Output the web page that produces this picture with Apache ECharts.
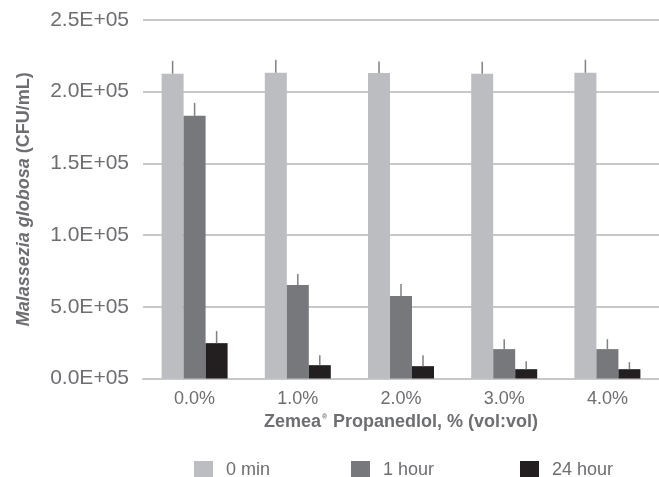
<!DOCTYPE html>
<html>
<head>
<meta charset="utf-8">
<script src="https://cdn.jsdelivr.net/npm/echarts@6/dist/echarts.min.js"></script>
<style>html,body{margin:0;padding:0;background:#fff;}#c{width:659px;height:477px;}</style>
</head>
<body>
<div id="c"></div>
<script>
const categories = ['0.0%', '1.0%', '2.0%', '3.0%', '4.0%'];
const seriesNames = ['0 min', '1 hour', '24 hour'];
const min0 = [212500, 213200, 213000, 212500, 213200];
const hour1 = [183200, 65150, 57500, 20500, 20500];
const hour24 = [24650, 9300, 8600, 6500, 6500];
const err0 = [9000, 9100, 8000, 8400, 9100];
const err1 = [9000, 7700, 8400, 6900, 6900];
const err24 = [8400, 7000, 7700, 5600, 4900];
const yTickLabels = ['0.0E+05', '5.0E+05', '1.0E+05', '1.5E+05', '2.0E+05', '2.5E+05'];

const colors = ['#bcbdc0', '#77787b', '#231f20'];
const values = [min0, hour1, hour24];
const errs = [err0, err1, err24];
const offsets = [-22, 0, 22];
const legendLeft = [189, 346, 515];
const font = '"Liberation Sans", Arial, sans-serif';
const textColor = '#6d6e71';

const chart = echarts.init(document.getElementById('c'));
const series = [];
values.forEach((vals, i) => {
  series.push({
    name: seriesNames[i], type: 'bar', data: vals, barWidth: 22, barGap: '0%',
    itemStyle: { color: colors[i] }, z: 2
  });
});
values.forEach((vals, i) => {
  series.push({
    type: 'custom', z: 3, silent: true,
    data: vals.map((v, k) => [k, v, v + errs[i][k]]),
    renderItem: function (params, api) {
      const p1 = api.coord([api.value(0), api.value(1)]);
      const p2 = api.coord([api.value(0), api.value(2)]);
      const x = p1[0] + offsets[i];
      return { type: 'line', shape: { x1: x, y1: p1[1], x2: x, y2: p2[1] },
        style: { stroke: '#808184', lineWidth: 1.5 } };
    }
  });
});

chart.setOption({
  animation: false,
  grid: { left: 143, right: -4, top: 20, bottom: 98.5, containLabel: false },
  legend: seriesNames.map((n, i) => ({
    data: [n], left: legendLeft[i], top: 456, icon: 'rect', itemWidth: 19, itemHeight: 19,
    textStyle: { fontFamily: font, fontSize: 18, color: textColor, padding: [0, 0, 0, 8] }
  })),
  xAxis: {
    type: 'category', data: categories,
    axisLine: { lineStyle: { color: '#c7c8ca', width: 2 } },
    axisTick: { show: false },
    axisLabel: { fontFamily: font, fontSize: 18, color: textColor, margin: 12 },
    name: '{b|Zemea}{s|®}{b| Propanedlol, % (vol:vol)}', nameLocation: 'middle', nameGap: 35,
    nameTextStyle: { rich: {
      b: { fontFamily: font, fontSize: 18, fontWeight: 'bold', color: textColor },
      s: { fontFamily: font, fontSize: 7, fontWeight: 'bold', color: textColor, verticalAlign: 'top', padding: [0, 1, 9, 1] }
    } }
  },
  yAxis: {
    type: 'value', min: 0, max: 250000, interval: 50000,
    axisLine: { show: false }, axisTick: { show: false },
    splitLine: { lineStyle: { color: '#c7c8ca', width: 2 } },
    axisLabel: { fontFamily: font, fontSize: 21, color: textColor, margin: 14,
      formatter: v => yTickLabels[Math.round(v / 50000)] },
    name: '{i|Malassezia globosa}{b| (CFU/mL)}', nameLocation: 'middle', nameGap: 110,
    nameTextStyle: { rich: {
      i: { fontFamily: font, fontSize: 18, fontWeight: 'bold', fontStyle: 'italic', color: textColor },
      b: { fontFamily: font, fontSize: 18, fontWeight: 'bold', color: textColor }
    } }
  },
  series: series
});
</script>
</body>
</html>
